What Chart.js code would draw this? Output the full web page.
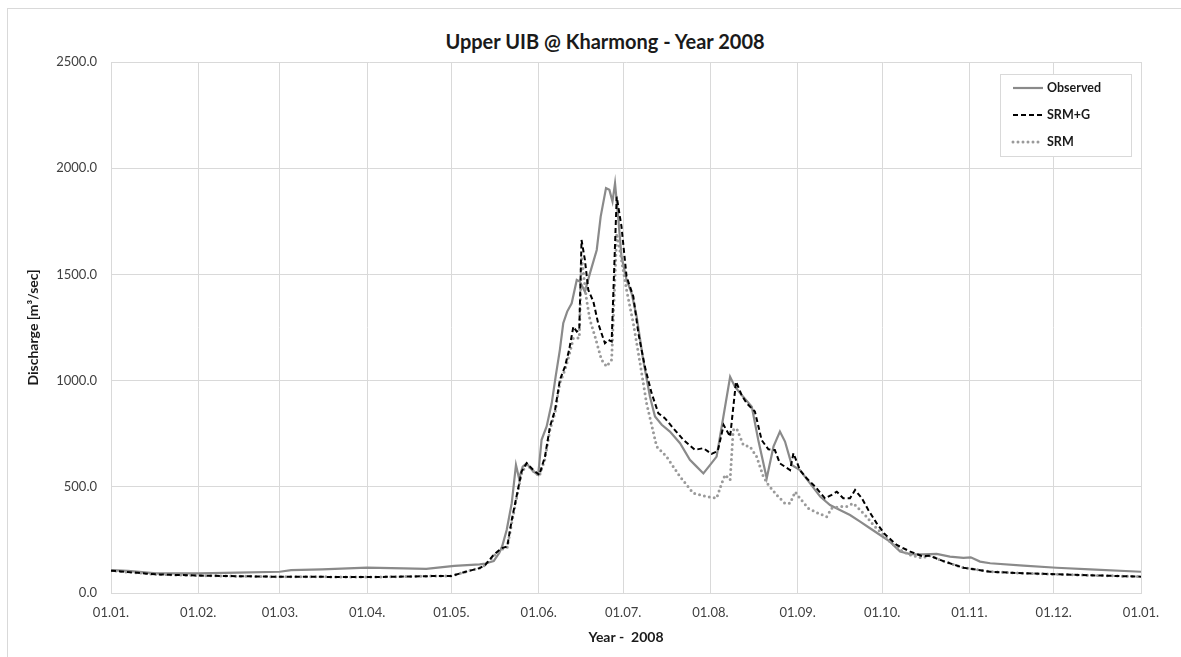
<!DOCTYPE html>
<html>
<head>
<meta charset="utf-8">
<title>Upper UIB @ Kharmong - Year 2008</title>
<script src="https://cdn.jsdelivr.net/npm/chart.js@4.4.1/dist/chart.umd.min.js"></script>
<style>
    body { margin: 0; background: #fff; overflow: hidden; }
    #wrap { position: relative; width: 1181px; height: 657px; overflow: hidden; }
    #frame { position: absolute; left: 7px; top: 8px; width: 1240px; height: 700px; border: 1px solid #d9d9d9; }
    #title { position: absolute; left: 0; top: 29px; width: 1210px; text-align: center; font: bold 20px Lato, sans-serif; line-height: 24px; color: #1a1a1a; }
    canvas { position: absolute; left: 0; top: 0; }
</style>
</head>
<body>
<div id="wrap">
    <div id="frame"></div>
    <div id="title">Upper UIB @ Kharmong - Year 2008</div>
    <canvas id="chart" width="1181" height="657"></canvas>
</div>
<script>
// day of year (0 = 01.01.2008) and discharge in m3/sec
const observed = [
    [0,108],[6,104],[16,92],[31,92],[45,96],[60,100],[64,108],[75,111],[91,119],[104,116],[112,114],
    [122,128],[131,135],[133,139],[136,150],[138,190],[139,220],[140.6,297],[142.4,423],[143.9,603],
    [145,540],[146.3,595],[147.7,611],[150,572],[151.8,556],[153,721],[154.8,784],[156.6,893],[158,1019],
    [159.5,1145],[160.7,1270],[162.1,1325],[163.7,1364],[165.5,1474],[166.6,1466],[168.4,1419],[170.2,1506],
    [172.6,1615],[174,1772],[175.9,1906],[177.1,1898],[178.2,1843],[179.1,1929],[180.3,1757],[181.4,1584],
    [183.2,1474],[185,1411],[186.8,1301],[189.1,1098],[191.5,925],[193.3,831],[195.7,792],[198.6,760],
    [202.2,705],[205.7,627],[208.1,595],[210.5,563],[212.9,603],[215.2,642],[217.6,830],[220,1018],
    [221.7,971],[224.1,932],[227.7,877],[230,720],[233,540],[235.4,689],[237.7,760],[239.5,713],[241.9,603],
    [244.8,579],[248.4,516],[252,454],[255.5,414],[259,391],[262.6,367],[266.2,336],[269.7,305],[273.3,273],
    [276.8,242],[280.4,195],[284,183],[288.7,182],[293.4,184],[298.1,171],[302.9,165],[305.5,168],
    [308.8,148],[312.4,140],[324.2,129],[336,119],[347.9,111],[366,100]
];
const srmG = [
    [0,105],[16,88],[31,82],[57,77],[93,75],[116,80],[121,80],[126,100],[131,117],[133,132],[136,180],
    [138.8,211],[140.8,219],[142.4,344],[144.1,454],[145.9,572],[147.7,611],[150,580],[152.2,556],
    [154.2,642],[156,784],[157.8,862],[159.5,1003],[161.3,1066],[162.8,1145],[164.3,1254],[165.5,1231],
    [166.4,1239],[167.2,1662],[168.4,1568],[169.6,1427],[171.4,1372],[173.1,1270],[175.5,1176],[176.7,1192],
    [177.9,1184],[179.7,1866],[181.4,1725],[183.2,1490],[185.6,1396],[187.4,1223],[189.7,1066],[192.1,941],
    [194.5,846],[196.8,823],[199.8,776],[203.4,721],[207.5,674],[210.5,682],[213.4,655],[215.6,668],
    [217.7,791],[220,736],[222.1,995],[224.1,932],[225.9,893],[228.8,854],[231.2,720],[233.6,676],
    [235.9,673],[237.7,610],[241.3,579],[242.5,658],[244.8,579],[247.2,540],[250.2,501],[253.7,446],
    [256.1,462],[257.9,477],[260.2,446],[262.6,446],[264.4,485],[266.8,446],[269.1,391],[272.1,328],
    [275.1,275],[279.2,226],[284,195],[288.1,174],[291,175],[295.8,150],[302.9,119],[312.4,100],
    [324.2,93],[336,88],[366,77]
];
const srm = [
    [0,105],[16,88],[31,82],[57,77],[93,75],[116,80],[121,80],[126,100],[131,117],[133,132],[136,175],
    [138.8,205],[140.8,215],[142.4,330],[144.1,445],[145.9,565],[147.7,605],[150,575],[152.2,550],
    [154.2,630],[156,770],[157.8,850],[159.5,990],[161.3,1050],[162.8,1120],[164.3,1200],[166.4,1200],
    [167.2,1584],[169,1380],[170.2,1286],[172,1207],[174.3,1098],[176.1,1066],[177.9,1098],[179.7,1694],
    [180.8,1615],[183.2,1427],[185.6,1270],[188,1082],[190.3,894],[193.9,690],[197.4,642],[202.2,548],
    [206.9,470],[211.6,454],[215.2,446],[217,516],[218.2,556],[220,532],[221.1,767],[222.3,775],
    [224.7,697],[227.1,689],[229.4,642],[231.8,548],[233.6,509],[236.5,462],[239.5,422],[241.3,422],
    [243.1,477],[244.8,446],[247.8,399],[251.4,375],[254.3,359],[256.1,399],[259,407],[261.4,407],
    [263.8,422],[266.2,391],[268.5,359],[270.9,320],[273.9,281],[277.4,234],[280.4,203],[283.9,179],
    [288.1,165],[291,175],[295.8,150],[302.9,119],[312.4,100],[324.2,93],[336,88],[366,77]
];

const monthDays = [0, 31, 60, 91, 121, 152, 182, 213, 244, 274, 305, 335, 366];
const monthLabels = ['01.01.', '01.02.', '01.03.', '01.04.', '01.05.', '01.06.', '01.07.',
    '01.08.', '01.09.', '01.10.', '01.11.', '01.12.', '01.01.'];
const yTicks = [0, 500, 1000, 1500, 2000, 2500];

const toPoints = arr => arr.map(([d, q]) => ({ x: d, y: q }));

// legend drawn as a box in the top right corner, like the Excel one
const legendBox = {
    id: 'legendBox',
    afterDraw(chart) {
        const ctx = chart.ctx;
        const x = 1000, y = 74, w = 131, h = 82;
        ctx.save();
        ctx.fillStyle = '#fff';
        ctx.fillRect(x, y, w, h);
        ctx.strokeStyle = '#d9d9d9';
        ctx.lineWidth = 1;
        ctx.strokeRect(x + 0.5, y + 0.5, w, h);
        ctx.font = 'bold 12.5px Lato, sans-serif';
        ctx.textBaseline = 'middle';
        chart.data.datasets.forEach((ds, i) => {
            const ly = y + 14 + i * 27;
            ctx.strokeStyle = ds.borderColor;
            ctx.lineWidth = ds.borderWidth;
            ctx.setLineDash(ds.borderDash || []);
            ctx.lineCap = ds.borderCapStyle || 'butt';
            ctx.beginPath();
            ctx.moveTo(x + 13, ly);
            ctx.lineTo(x + 43, ly);
            ctx.stroke();
            ctx.fillStyle = '#1a1a1a';
            ctx.fillText(ds.label, x + 47, ly);
        });
        ctx.restore();
    }
};

new Chart(document.getElementById('chart'), {
    type: 'line',
    data: {
        datasets: [
            {
                label: 'Observed',
                data: toPoints(observed),
                borderColor: '#8a8a8a',
                borderWidth: 2.2,
                order: 2
            },
            {
                label: 'SRM+G',
                data: toPoints(srmG),
                borderColor: '#000',
                borderWidth: 2,
                borderDash: [5, 3],
                order: 0
            },
            {
                label: 'SRM',
                data: toPoints(srm),
                borderColor: '#9a9a9a',
                borderWidth: 3,
                borderDash: [0, 5],
                borderCapStyle: 'round',
                order: 1
            }
        ]
    },
    options: {
        responsive: false,
        animation: false,
        elements: { point: { radius: 0 }, line: { tension: 0, fill: false } },
        layout: { padding: { left: 0, right: 40, top: 62, bottom: 0 } },
        plugins: { legend: { display: false }, tooltip: { enabled: false } },
        scales: {
            x: {
                type: 'linear',
                min: 0,
                max: 366,
                afterBuildTicks: scale => { scale.ticks = monthDays.map(v => ({ value: v })); },
                afterFit: scale => { scale.height = 64; },
                ticks: {
                    autoSkip: false,
                    maxRotation: 0,
                    padding: 12,
                    color: '#404040',
                    font: { family: 'Lato', size: 13 },
                    callback: v => monthLabels[monthDays.indexOf(v)]
                },
                grid: { color: '#d9d9d9', drawTicks: false },
                border: { color: '#d9d9d9' },
                title: {
                    display: true,
                    text: 'Year -  2008',
                    color: '#1a1a1a',
                    font: { family: 'Lato', size: 14, weight: 'bold' },
                    padding: { top: 0, bottom: 11 }
                }
            },
            y: {
                min: 0,
                max: 2500,
                afterBuildTicks: scale => { scale.ticks = yTicks.map(v => ({ value: v })); },
                afterFit: scale => { scale.width = 111; },
                ticks: {
                    padding: 14,
                    color: '#404040',
                    font: { family: 'Lato', size: 13 },
                    callback: v => v.toFixed(1)
                },
                grid: { color: '#d9d9d9', drawTicks: false },
                border: { color: '#d9d9d9' },
                title: {
                    display: true,
                    text: 'Discharge [m³/sec]',
                    color: '#1a1a1a',
                    font: { family: 'Lato', size: 14, weight: 'bold' },
                    padding: { top: 25, bottom: 0 }
                }
            }
        }
    },
    plugins: [legendBox]
});
</script>
</body>
</html>
